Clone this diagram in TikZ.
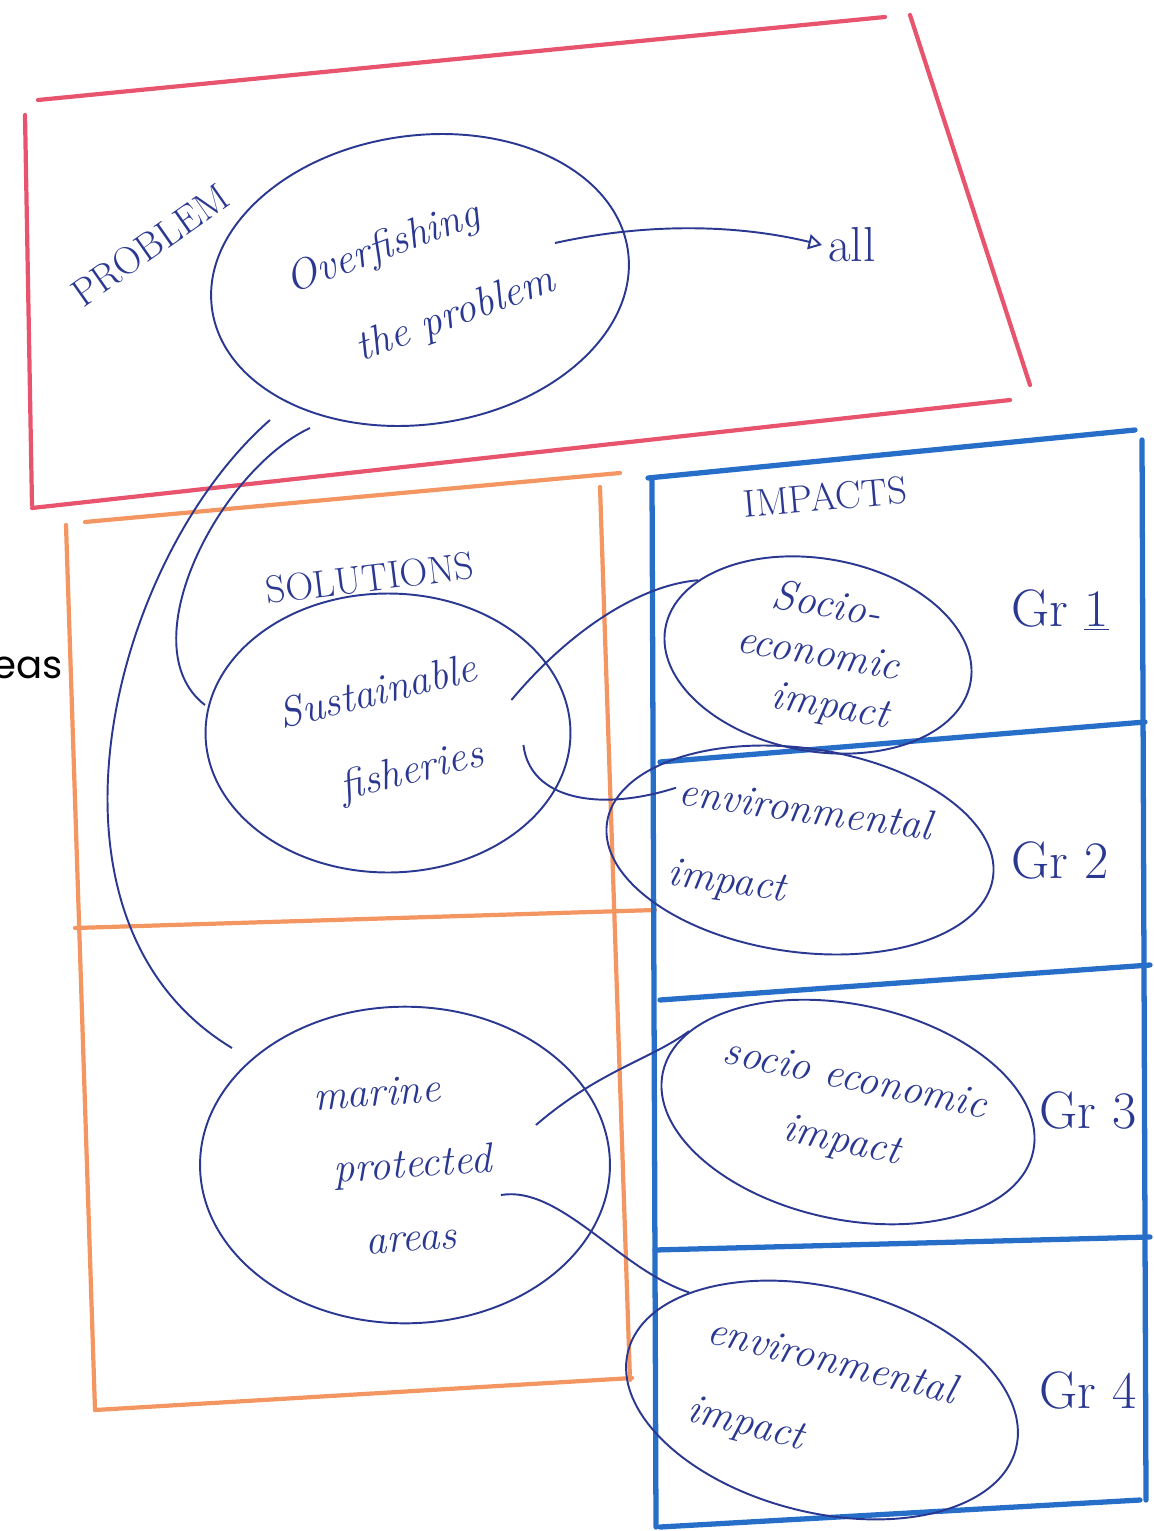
\documentclass[tikz,border=0pt]{standalone}
\usepackage{fontspec}
\usepackage{graphicx}
\usetikzlibrary{shapes.geometric, arrows}
\setsansfont{Poppins}
\definecolor{probred}{RGB}{232,84,110}
\definecolor{solorange}{RGB}{244,150,98}
\definecolor{impblue}{RGB}{38,110,200}
\definecolor{ink}{RGB}{42,56,145}
\tikzstyle{frame}=[line width=2.4pt, line cap=round]
\tikzstyle{bubble}=[draw=ink, ellipse, line width=1.1pt, text=ink, inner sep=0pt, align=center, font=\fontsize{24}{36}\selectfont\itshape]
\tikzstyle{link}=[draw=ink, line width=1.1pt]
\tikzstyle{hand}=[text=ink, font=\fontsize{22}{26}\selectfont]
\tikzstyle{group}=[text=ink, font=\fontsize{30}{34}\selectfont]

\begin{document}
\begin{tikzpicture}[x=0.02cm,y=-0.02cm,>=open triangle 60]
      \useasboundingbox (0,0) rectangle (1153,1531);
      % problem frame
      \draw[frame, probred] (38,100) -- (885,17);
      \draw[frame, probred] (910,15) -- (1030,385);
      \draw[frame, probred] (1010,400) -- (32,508);
      \draw[frame, probred] (25,115) -- (32,505);
      % solutions frame
      \draw[frame, solorange] (85,522) -- (620,473);
      \draw[frame, solorange] (600,487) -- (630,1380);
      \draw[frame, solorange] (95,1410) -- (632,1378);
      \draw[frame, solorange] (66,525) -- (95,1410);
      \draw[frame, solorange] (75,928) -- (655,910);
      % impacts frame
      \draw[frame, impblue, line width=3pt] (648,478) -- (1135,430);
      \draw[frame, impblue, line width=3pt] (652,478) -- (656,1527);
      \draw[frame, impblue, line width=3pt] (1142,440) -- (1146,1500);
      \draw[frame, impblue, line width=3pt] (660,1527) -- (1140,1500);
      \draw[frame, impblue, line width=3pt] (660,762) -- (1145,722);
      \draw[frame, impblue, line width=3pt] (660,1000) -- (1150,965);
      \draw[frame, impblue, line width=3pt] (655,1250) -- (1150,1237);

      \node[hand, rotate=35] (problem) at (150,245) {PROBLEM};
      \node[hand, rotate=7] (solutions) at (370,578) {SOLUTIONS};
      \node[hand, rotate=5] (impacts) at (825,497) {IMPACTS};
      \node [font=\sffamily\fontsize{22}{26}\selectfont, anchor=west, inner sep=0pt] (cut) at (-8,668) {eas};

      \node[bubble, rotate=8, minimum width=8.4cm, minimum height=5.5cm] (over) at (420,280) {\rotatebox{12}{\begin{tabular}{l}Overfishing\\[14pt] \quad the problem\end{tabular}}};
      \node[bubble, minimum width=7.3cm, minimum height=4.9cm] (fish) at (388,733) {\rotatebox{14}{\begin{tabular}{l}Sustainable\\[12pt] \quad fisheries\end{tabular}}};
      \node[bubble, minimum width=8.2cm, minimum height=5.8cm] (mpa) at (405,1165) {\rotatebox{4}{\begin{tabular}{l}marine\\[6pt] \ protected\\[6pt] \quad areas\end{tabular}}};
      \node[bubble, rotate=-10, minimum width=6.2cm, minimum height=3.4cm, font=\fontsize{24}{28}\selectfont\itshape] (soc1) at (818,655) {Socio-\\economic\\ \quad impact};
      \node[bubble, rotate=-8, minimum width=7.2cm, minimum height=4cm] (env2) at (800,850) {\begin{tabular}{l}environmental\\[10pt]impact\end{tabular}};
      \node[bubble, rotate=-12, minimum width=7cm, minimum height=4.3cm] (soc3) at (848,1112) {socio economic\\impact};
      \node[bubble, rotate=-14, minimum width=8cm, minimum height=4.5cm] (env4) at (822,1400) {\begin{tabular}{l}environmental\\[10pt]impact\end{tabular}};

      \node[group] (g1) at (1060,610) {Gr \underline{1}};
      \node[group] (g2) at (1060,860) {Gr 2};
      \node[group] (g3) at (1088,1110) {Gr 3};
      \node[group] (g4) at (1088,1390) {Gr 4};
      \node[hand, font=\fontsize{28}{32}\selectfont, anchor=west] (all) at (822,245) {all};

      \coordinate (src) at (555,243);
      \draw[link, ->] (src) .. controls (650,222) and (740,225) .. (all.west);
      \draw[link] ([shift={(-150,140)}]over.center) .. controls (110,560) and (20,920) .. ([shift={(-173,-117)}]mpa.center);
      \draw[link] ([shift={(-110,148)}]over.center) .. controls (220,470) and (128,646) .. ([shift={(-183,-28)}]fish.center);
      \draw[link] ([shift={(-60,-33)}]fish.east) .. controls (570,630) and (640,585) .. (soc1.158);
      \draw[link] ([shift={(-48,12)}]fish.east) .. controls (530,800) and (600,812) .. ([shift={(70,-35)}]env2.west);
      \draw[link] ([shift={(-75,-40)}]mpa.east) .. controls (600,1070) and (650,1060) .. (soc3.165);
      \draw[link] ([shift={(-110,30)}]mpa.east) .. controls (560,1185) and (620,1270) .. (env4.155);
\end{tikzpicture}
\end{document}
